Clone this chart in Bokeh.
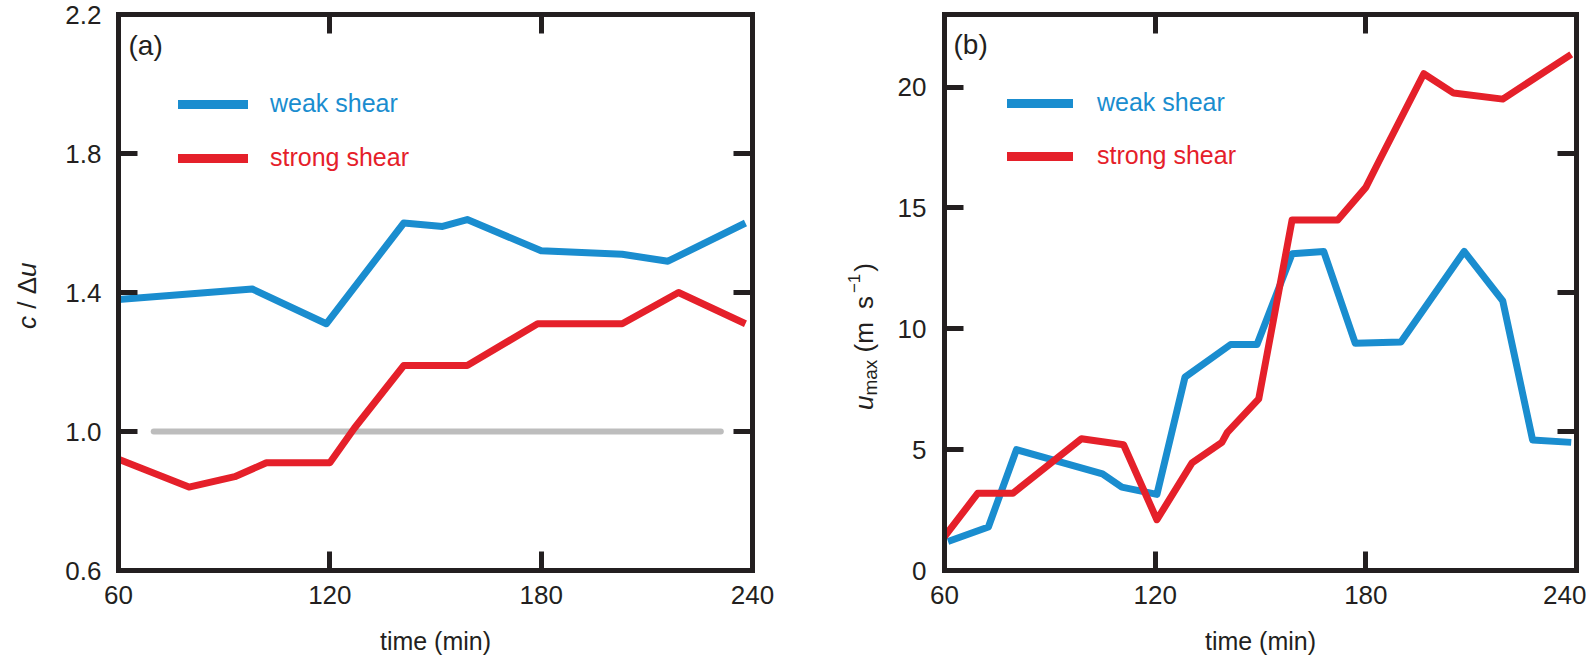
from bokeh.plotting import figure
from bokeh.models import LinearAxis, Range1d, FixedTicker, Label, Legend, LegendItem, Div
from bokeh.layouts import row
from bokeh.embed import file_html
from bokeh.resources import INLINE

# ---------------- data ----------------
time_ticks = [60, 120, 180, 240]

# panel (a): c / du
a_weak_t = [60, 98, 119, 141, 152, 159, 180, 203, 216, 238]
a_weak_v = [1.38, 1.41, 1.31, 1.60, 1.59, 1.61, 1.52, 1.51, 1.49, 1.60]
a_strong_t = [60, 80, 93, 102, 120, 127, 141, 159, 179, 203, 219, 238]
a_strong_v = [0.92, 0.84, 0.87, 0.91, 0.91, 1.01, 1.19, 1.19, 1.31, 1.31, 1.40, 1.31]
a_ref_t = [70, 231]
a_ref_v = [1.0, 1.0]
a_y_ticks = [0.6, 1.0, 1.4, 1.8, 2.2]
a_y_labels = ["0.6", "1.0", "1.4", "1.8", "2.2"]

# panel (b): u_max
b_weak_t = [61, 72.5, 80.5, 105, 110.5, 120.5, 128.5, 141.5, 149, 159, 168, 177, 190, 208, 219, 227.5, 238.5]
b_weak_v = [1.2, 1.8, 5.0, 4.0, 3.45, 3.15, 8.0, 9.35, 9.35, 13.1, 13.2, 9.4, 9.45, 13.2, 11.15, 5.4, 5.3]
b_strong_t = [60, 69.5, 79.5, 99, 111, 120.5, 130.5, 139, 140.5, 149.5, 159, 172, 180, 184, 196.5, 205, 219, 238.5]
b_strong_v = [1.4, 3.2, 3.2, 5.45, 5.2, 2.1, 4.45, 5.3, 5.7, 7.1, 14.5, 14.5, 15.85, 17.0, 20.55, 19.75, 19.5, 21.35]
b_y_ticks = [0, 5, 10, 15, 20]
b_y_labels = ["0", "5", "10", "15", "20"]

series_names = ["weak shear", "strong shear"]

# ---------------- style ----------------
BLUE = "#1a8dcf"
RED = "#e5202a"
GRAY = "#bdbdbd"
INK = "#231f20"
FONT = "Liberation Sans"
FS = "25px"
TICK_FS = "26px"
H = 660

A_RANGE = (0.6, 2.2)
B_RANGE = (0.0, 23.0)


def style_axis(ax, ticks, labels=None):
    ax.ticker = FixedTicker(ticks=ticks)
    ax.axis_line_width = 5
    ax.axis_line_color = INK
    ax.axis_line_cap = "square"
    ax.major_tick_in = 19
    ax.major_tick_out = 0
    ax.major_tick_line_width = 5
    ax.major_tick_line_color = INK
    ax.minor_tick_line_color = None
    ax.major_label_text_font = FONT
    ax.major_label_text_font_size = TICK_FS
    ax.major_label_text_color = INK
    if labels is None:
        ax.major_label_overrides = {t: "" for t in ticks}
        ax.major_label_standoff = 0
    else:
        ax.major_label_overrides = {t: l for t, l in zip(ticks, labels)}


def make_panel(width, mbl, mbr, yr, y_ticks, y_labels, right_ticks, y_standoff):
    p = figure(width=width, height=H, x_range=Range1d(60, 240), y_range=Range1d(*yr),
               output_backend="svg", toolbar_location=None,
               min_border_left=mbl, min_border_right=mbr, min_border_top=14, min_border_bottom=90)
    p.xgrid.visible = False
    p.ygrid.visible = False
    p.outline_line_color = None
    p.background_fill_color = "white"
    p.border_fill_color = "white"

    style_axis(p.xaxis[0], time_ticks, [str(t) for t in time_ticks])
    p.xaxis[0].major_label_standoff = 15
    p.xaxis[0].axis_label = "time (min)"
    p.xaxis[0].axis_label_text_font = FONT
    p.xaxis[0].axis_label_text_font_size = FS
    p.xaxis[0].axis_label_text_font_style = "normal"
    p.xaxis[0].axis_label_text_color = INK
    p.xaxis[0].axis_label_standoff = 20

    style_axis(p.yaxis[0], y_ticks, y_labels)
    p.yaxis[0].major_label_standoff = y_standoff

    top = LinearAxis()
    style_axis(top, time_ticks[1:-1])
    p.add_layout(top, "above")
    right = LinearAxis()
    style_axis(right, right_ticks)
    p.add_layout(right, "right")
    return p


def add_legend(p, color, label, x, y, glyph_w, standoff):
    proxy = p.line(x=[float("nan")], y=[float("nan")], line_color=color, line_width=9,
                   line_cap="round")
    lg = Legend(items=[LegendItem(label=label, renderers=[proxy])], location=(x, y),
                padding=0, margin=0, spacing=0, glyph_width=glyph_w, glyph_height=20,
                label_standoff=standoff, label_text_font=FONT, label_text_font_size=FS,
                label_text_color=color, border_line_color=None, background_fill_alpha=0)
    p.add_layout(lg)


def add_tag(p, text, x, y, dx, dy):
    p.add_layout(Label(x=x, y=y, x_offset=dx, y_offset=dy, text=text,
                       text_font=FONT, text_font_size="28px", text_color=INK,
                       text_align="left", text_baseline="alphabetic"))


def side_label(html, width, left, top):
    inner = ('<div style="position:relative;width:%dpx;height:%dpx;">'
             '<div style="position:absolute;left:%dpx;top:%dpx;transform:rotate(-90deg);'
             'transform-origin:0 0;white-space:nowrap;font-family:\'Liberation Sans\';'
             'font-size:26px;line-height:29px;color:%s;">%s</div></div>'
             % (width, H, left, top, INK, html))
    return Div(text=inner, width=width, height=H, margin=0)


# ---------------- panel (a) ----------------
div_a = side_label('<i>c</i> / &Delta;<i>u</i>', 50, 13, 329)
pa = make_panel(758, 68, 56, A_RANGE, a_y_ticks, a_y_labels, a_y_ticks[1:-1], 17)
pa.line(a_ref_t, a_ref_v, line_color=GRAY, line_width=6, line_cap="round")
pa.line(a_weak_t, a_weak_v, line_color=BLUE, line_width=7, line_join="round")
pa.line(a_strong_t, a_strong_v, line_color=RED, line_width=7, line_join="round")
add_legend(pa, BLUE, series_names[0], 60, 452, 70, 22)
add_legend(pa, RED, series_names[1], 60, 398, 70, 22)
add_tag(pa, "(a)", 60, A_RANGE[1], 10, -31)

# ---------------- panel (b) ----------------
div_b = side_label('<i>u</i><span style="font-size:19px;position:relative;top:4px;">max</span>'
                   '&nbsp;(m<span style="margin-left:13px;">s</span>'
                   '<span style="font-size:17px;position:relative;top:-13px;margin-left:3px;">&minus;1</span>'
                   '<span style="margin-left:2px;">)</span>', 80, 42, 410)
frac = [(v - A_RANGE[0]) / (A_RANGE[1] - A_RANGE[0]) for v in a_y_ticks[1:-1]]
b_right_ticks = [B_RANGE[0] + f * (B_RANGE[1] - B_RANGE[0]) for f in frac]
pb = make_panel(698, 56, 10, B_RANGE, b_y_ticks, b_y_labels, b_right_ticks, 18)
pb.line(b_weak_t, b_weak_v, line_color=BLUE, line_width=7, line_join="round")
pb.line(b_strong_t, b_strong_v, line_color=RED, line_width=7, line_join="round")
add_legend(pb, BLUE, series_names[0], 63, 453, 66, 24)
add_legend(pb, RED, series_names[1], 63, 400, 66, 24)
add_tag(pb, "(b)", 60, B_RANGE[1], 9, -30)

layout = row(div_a, pa, div_b, pb)
open("out.html", "w").write(file_html(layout, INLINE))
